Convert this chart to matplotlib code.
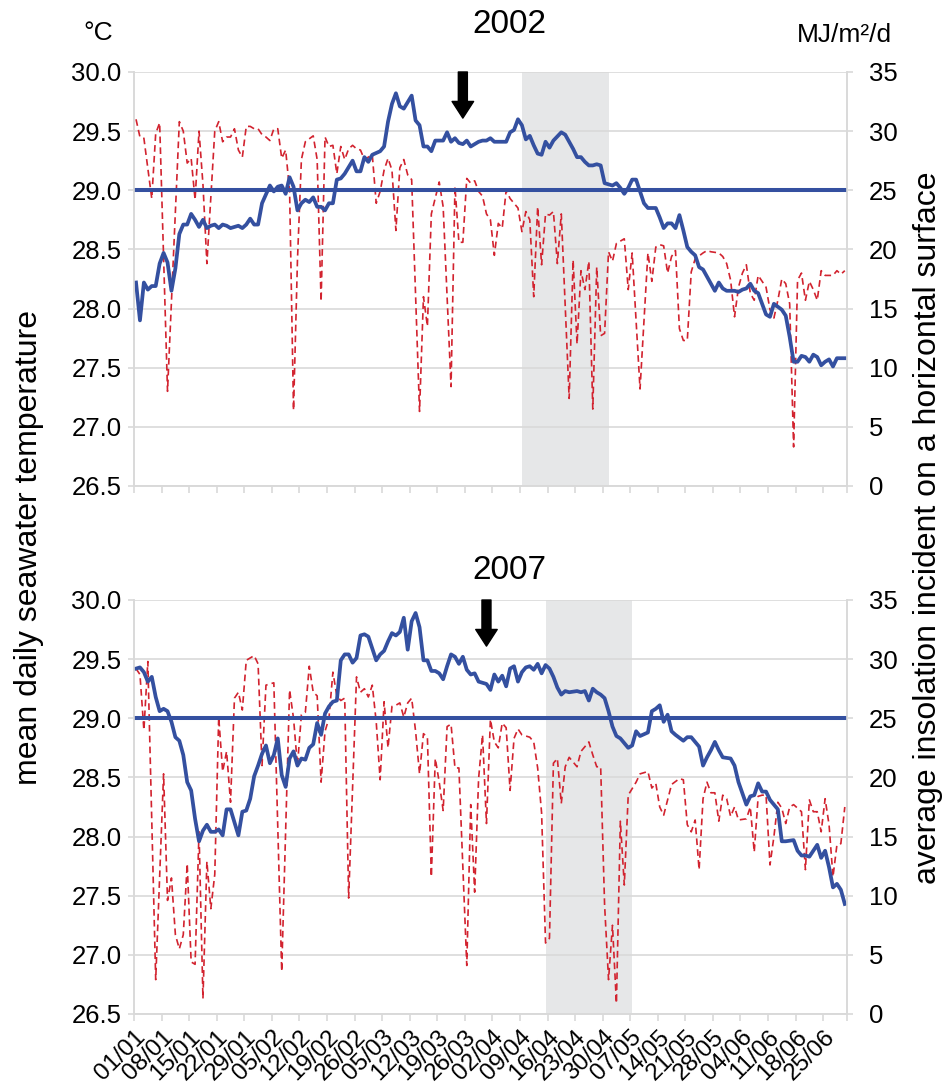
import matplotlib
matplotlib.use("Agg")
import matplotlib.pyplot as plt
from matplotlib.transforms import blended_transform_factory, ScaledTranslation

plt.rcParams['font.family'] = ['Liberation Sans', 'DejaVu Sans']

# day 0 = 01/01, series run to 30/06 (day 180)
tick_days = list(range(0, 176, 7))
tick_labels = ['01/01', '08/01', '15/01', '22/01', '29/01', '05/02', '12/02', '19/02',
               '26/02', '05/03', '12/03', '19/03', '26/03', '02/04', '09/04', '16/04',
               '23/04', '30/04', '07/05', '14/05', '21/05', '28/05', '04/06', '11/06',
               '18/06', '25/06']

# 2002 - mean daily seawater temperature (°C)
days_t02 = [0, 1, 2, 3, 4, 5, 6, 7, 8, 9, 10, 11, 12, 13, 14, 15, 16, 17, 18, 19, 20, 21, 22, 23, 24,
            26, 27, 28, 29, 30, 31, 32, 34, 35, 36, 37, 38, 39, 40, 41, 42, 43, 44, 45, 46, 47, 48,
            49, 50, 51, 52, 53, 55, 56, 57, 58, 59, 60, 62, 63, 64, 65, 66, 67, 68, 70, 71, 72, 73,
            74, 75, 76, 78, 79, 80, 81, 82, 83, 84, 85, 87, 88, 89, 90, 91, 92, 94, 95, 96, 97, 98,
            99, 100, 101, 102, 103, 104, 105, 106, 108, 109, 110, 111, 112, 113, 114, 115, 116, 117,
            118, 119, 121, 122, 123, 124, 125, 126, 127, 128, 129, 130, 132, 133, 134, 135, 136, 137,
            138, 139, 140, 141, 142, 143, 144, 145, 147, 148, 149, 150, 152, 153, 154, 155, 156, 157,
            158, 159, 160, 161, 162, 164, 165, 166, 167, 168, 169, 170, 171, 172, 173, 174, 175, 176,
            177, 178, 180]
temp_02 = [28.22, 27.90, 28.22, 28.16, 28.19, 28.19, 28.38, 28.47, 28.39, 28.15, 28.34, 28.63, 28.71,
           28.71, 28.80, 28.75, 28.69, 28.75, 28.68, 28.70, 28.71, 28.68, 28.71, 28.70, 28.68, 28.70,
           28.68, 28.71, 28.76, 28.71, 28.71, 28.89, 29.04, 28.99, 29.03, 29.04, 28.97, 29.11, 29.03,
           28.83, 28.89, 28.92, 28.90, 28.94, 28.86, 28.86, 28.83, 28.89, 28.89, 29.09, 29.10, 29.14,
           29.25, 29.16, 29.16, 29.28, 29.24, 29.30, 29.33, 29.37, 29.58, 29.73, 29.82, 29.71, 29.69,
           29.80, 29.59, 29.55, 29.37, 29.37, 29.33, 29.42, 29.42, 29.49, 29.41, 29.44, 29.40, 29.39,
           29.42, 29.37, 29.41, 29.42, 29.42, 29.44, 29.41, 29.41, 29.41, 29.49, 29.51, 29.60, 29.55,
           29.43, 29.46, 29.38, 29.31, 29.30, 29.41, 29.36, 29.42, 29.49, 29.47, 29.41, 29.35, 29.28,
           29.28, 29.24, 29.21, 29.21, 29.22, 29.21, 29.06, 29.04, 29.06, 29.02, 28.97, 29.02, 29.09,
           29.09, 28.99, 28.89, 28.85, 28.85, 28.77, 28.68, 28.72, 28.72, 28.68, 28.79, 28.66, 28.52,
           28.48, 28.45, 28.35, 28.33, 28.27, 28.15, 28.22, 28.17, 28.15, 28.15, 28.14, 28.16, 28.17,
           28.21, 28.15, 28.13, 28.04, 27.95, 27.93, 28.04, 27.99, 27.94, 27.76, 27.55, 27.55, 27.60,
           27.59, 27.55, 27.61, 27.59, 27.52, 27.55, 27.57, 27.51, 27.58, 27.58]

# 2002 - insolation on a horizontal surface (MJ/m2/d)
days_r02 = [0, 1, 2, 4, 5, 6, 8, 11, 12, 13, 14, 15, 16, 17, 18, 20, 21, 22, 23, 24, 25, 26, 27, 28,
            29, 30, 31, 32, 33, 34, 35, 36, 37, 38, 39, 40, 41, 42, 43, 45, 46, 47, 48, 49, 50, 51,
            52, 53, 54, 55, 56, 57, 58, 59, 60, 61, 62, 63, 64, 65, 66, 67, 68, 69, 70, 72, 73, 74,
            75, 77, 78, 80, 81, 82, 83, 84, 85, 86, 87, 88, 89, 90, 91, 92, 93, 94, 95, 97, 98, 99,
            100, 101, 102, 103, 104, 105, 106, 107, 108, 110, 111, 112, 113, 114, 115, 116, 117, 118,
            119, 120, 121, 122, 124, 125, 126, 128, 130, 131, 132, 133, 134, 135, 136, 137, 138, 139,
            140, 141, 142, 144, 145, 146, 148, 149, 150, 151, 152, 153, 154, 155, 156, 157, 158, 160,
            161, 162, 163, 164, 165, 166, 167, 168, 169, 170, 171, 172, 173, 174, 175, 177, 178, 179,
            180]
rad_02 = [31.0, 29.5, 29.4, 24.3, 29.8, 30.7, 8.0, 30.8, 30.0, 27.3, 27.7, 24.2, 30.0, 25.5, 18.8,
          30.0, 30.8, 29.1, 29.5, 29.5, 30.2, 28.4, 27.8, 30.4, 30.4, 30.2, 30.2, 29.7, 29.5, 29.2,
          30.2, 30.2, 27.7, 28.4, 25.0, 6.4, 19.1, 27.6, 29.1, 29.6, 27.6, 15.6, 29.5, 28.7, 28.8,
          26.4, 28.7, 27.6, 28.5, 28.8, 28.5, 28.4, 27.6, 27.8, 28.0, 23.9, 24.9, 26.7, 27.7, 26.7,
          21.6, 26.9, 27.6, 26.3, 25.9, 6.3, 16.0, 13.5, 23.0, 25.7, 23.6, 8.4, 25.3, 20.6, 20.6,
          26.0, 25.6, 25.8, 24.9, 24.5, 23.0, 22.5, 19.5, 22.2, 21.8, 25.0, 24.3, 23.5, 21.5, 23.2,
          22.5, 16.0, 23.6, 18.7, 23.0, 22.9, 23.2, 18.8, 23.0, 7.4, 19.1, 12.0, 18.2, 16.6, 19.0,
          6.5, 18.5, 12.7, 12.9, 19.8, 19.0, 20.5, 20.9, 16.6, 19.7, 8.2, 19.7, 17.3, 20.2, 20.4,
          20.3, 18.0, 19.4, 19.9, 13.3, 12.3, 12.3, 18.1, 19.2, 19.7, 19.9, 19.8, 19.7, 19.4, 18.8,
          17.4, 14.3, 16.8, 18.0, 18.7, 16.3, 15.7, 17.8, 16.8, 14.9, 14.2, 15.7, 17.5, 17.1, 15.4,
          3.3, 17.4, 18.0, 15.7, 17.3, 16.6, 15.7, 18.2, 17.8, 17.8, 18.2, 17.9, 18.2]

# 2007 - mean daily seawater temperature (°C)
days_t07 = list(range(0, 88)) + [89, 90, 91, 92, 93, 94, 95, 96, 97, 98, 99, 100, 101, 102, 103,
                                 104, 105, 106, 107, 108, 109, 110, 112, 113, 114, 115, 116, 117,
                                 118, 119, 120, 121, 122, 123, 124, 125, 126, 127, 128, 130, 131,
                                 132, 133, 134, 135, 136, 137, 139, 140, 141, 142, 143, 144, 145,
                                 146, 147, 148, 149, 151, 152, 153, 155, 156, 157, 158, 159, 160,
                                 161, 163, 164, 165, 167, 168, 169, 170, 171, 172, 173, 174, 175,
                                 176, 177, 178, 179, 180]
temp_07 = [29.42, 29.43, 29.39, 29.31, 29.35, 29.18, 29.06, 29.08, 29.06, 28.97, 28.84, 28.81, 28.69,
           28.46, 28.39, 28.15, 27.96, 28.05, 28.10, 28.04, 28.04, 28.06, 28.01, 28.23, 28.23, 28.12,
           28.01, 28.21, 28.22, 28.32, 28.51, 28.60, 28.70, 28.77, 28.62, 28.69, 28.83, 28.52, 28.42,
           28.66, 28.72, 28.60, 28.66, 28.65, 28.75, 28.78, 28.96, 28.86, 29.04, 29.10, 29.14, 29.15,
           29.49, 29.54, 29.54, 29.47, 29.51, 29.70, 29.71, 29.69, 29.59, 29.49, 29.54, 29.57, 29.65,
           29.72, 29.70, 29.73, 29.85, 29.58, 29.82, 29.89, 29.77, 29.49, 29.49, 29.40, 29.40, 29.38,
           29.33, 29.44, 29.54, 29.52, 29.46, 29.52, 29.41, 29.37, 29.38, 29.31,
           29.29, 29.24, 29.37, 29.31, 29.36, 29.27, 29.42, 29.44, 29.31, 29.39, 29.43, 29.44, 29.41,
           29.46, 29.38, 29.45, 29.42, 29.35, 29.26, 29.20, 29.23, 29.22, 29.23, 29.22, 29.23, 29.15,
           29.25, 29.22, 29.20, 29.17, 29.06, 28.93, 28.85, 28.83, 28.79, 28.75, 28.77, 28.89, 28.85,
           28.88, 29.06, 29.08, 29.11, 28.97, 29.03, 28.89, 28.86, 28.81, 28.84, 28.84, 28.80, 28.76,
           28.60, 28.67, 28.73, 28.80, 28.73, 28.67, 28.66, 28.60, 28.46, 28.27, 28.34, 28.35, 28.45,
           28.38, 28.38, 28.31, 28.23, 27.96, 27.96, 27.97, 27.88, 27.84, 27.84, 27.83, 27.88, 27.93,
           27.82, 27.88, 27.74, 27.57, 27.60, 27.55, 27.43]

# 2007 - insolation on a horizontal surface (MJ/m2/d)
days_r07 = [0, 1, 2, 3, 5, 7, 8, 9, 10, 11, 12, 13, 14, 15, 16, 17, 18, 19, 20, 21, 22, 23, 24, 25,
            26, 27, 28, 30, 31, 32, 33, 35, 37, 39, 40, 41, 42, 43, 44, 45, 46, 47, 48, 49, 50, 51,
            52, 53, 54, 56, 57, 58, 59, 60, 61, 62, 63, 64, 65, 66, 67, 68, 69, 70, 71, 72, 73, 74,
            75, 76, 77, 78, 79, 80, 81, 82, 84, 85, 86, 87, 88, 89, 90, 91, 92, 93, 94, 95, 96, 97,
            98, 100, 101, 102, 103, 104, 105, 106, 107, 108, 109, 110, 112, 113, 115, 116, 117, 118,
            119, 120, 121, 122, 123, 124, 125, 127, 128, 130, 131, 132, 133, 134, 136, 138, 139, 140,
            141, 142, 143, 144, 145, 146, 147, 148, 149, 150, 151, 152, 153, 155, 156, 157, 158, 159,
            160, 161, 162, 163, 164, 165, 166, 167, 169, 170, 171, 172, 173, 174, 175, 176, 177, 178,
            179, 180]
rad_07 = [29.2, 28.7, 24.0, 29.8, 2.9, 20.3, 9.6, 11.5, 6.7, 5.5, 6.7, 12.7, 4.4, 4.2, 15.4, 1.3,
          12.9, 8.9, 11.8, 25.1, 20.5, 22.2, 17.9, 26.7, 27.2, 25.7, 29.9, 30.3, 29.6, 21.0, 27.8,
          28.0, 3.6, 27.4, 25.0, 21.0, 25.3, 25.5, 29.4, 27.2, 26.9, 19.6, 23.9, 25.0, 28.9, 26.9,
          26.5, 26.7, 9.8, 28.5, 27.2, 27.5, 26.8, 27.8, 24.7, 19.8, 26.4, 22.5, 26.0, 26.1, 26.3,
          25.1, 26.3, 26.7, 23.9, 20.3, 23.7, 23.4, 11.6, 21.6, 19.6, 17.2, 24.3, 24.5, 20.8, 20.8,
          4.1, 17.7, 10.3, 19.9, 23.6, 16.1, 24.9, 23.0, 22.5, 24.6, 24.2, 18.9, 23.3, 24.1, 23.6,
          23.4, 23.0, 20.8, 17.0, 6.0, 6.4, 21.2, 21.6, 17.8, 20.9, 21.7, 20.9, 22.2, 23.0, 21.9,
          20.9, 20.9, 9.2, 2.9, 7.5, 0.9, 16.3, 10.9, 18.5, 19.6, 20.3, 20.5, 19.1, 19.5, 17.5, 16.8,
          19.4, 19.9, 19.8, 16.0, 15.4, 16.4, 12.2, 18.2, 19.6, 18.7, 18.7, 16.3, 18.5, 18.2, 16.7,
          17.5, 16.4, 16.5, 17.5, 13.7, 18.4, 18.5, 18.5, 12.6, 15.0, 17.9, 17.4, 16.1, 17.5, 17.7,
          17.1, 12.2, 18.1, 17.1, 17.1, 15.4, 18.2, 16.0, 11.6, 14.3, 14.4, 17.5]

# shaded period (first day, last day) and arrow day for each year
shade_02 = (98, 120)
shade_07 = (104, 126)
arrow_02 = 83
arrow_07 = 89
threshold = 29.0

blue = '#3450a0'
red = '#d2232f'
grid_c = '#d9d9d9'

fig = plt.figure(figsize=(9.44, 10.84), dpi=100)
ax_top = fig.add_axes([0.142, 0.5517, 0.755, 0.3819])
ax_bot = fig.add_axes([0.142, 0.0646, 0.755, 0.3819])


def draw_panel(ax, days_t, temp, days_r, rad, shade, arrow_day, show_labels):
    ax2 = ax.twinx()
    ax.set_zorder(2)
    ax2.set_zorder(1)
    ax.patch.set_visible(False)

    # insolation, shading and grid underneath
    ax2.axvspan(shade[0], shade[1], color='#e6e7e8', lw=0, zorder=0)
    ax2.plot(days_r, rad, color=red, lw=1.2, ls=(0, (4, 2.5)), zorder=2)
    ax2.set_ylim(0, 35)
    ax2.set_yticks(range(0, 36, 5))
    ax2.grid(axis='y', color=grid_c, lw=1.2)
    ax2.set_axisbelow(True)

    # temperature on top
    ax.plot(days_t, temp, color=blue, lw=2.7, solid_joinstyle='round')
    ax.axhline(threshold, color=blue, lw=2.9)
    ax.set_ylim(26.5, 30.0)
    ax.set_yticks([26.5 + 0.5 * i for i in range(8)])
    ax.set_yticklabels(['%.1f' % (26.5 + 0.5 * i) for i in range(8)])
    ax.set_xlim(-0.5, 180.5)

    ax.annotate('', xy=(arrow_day, 29.61), xytext=(arrow_day, 30.0),
                arrowprops=dict(facecolor='black', edgecolor='black', width=6.5,
                                headwidth=15.5, headlength=12, shrink=0))

    # week ticks sit between days
    ax.set_xticks([d - 0.5 for d in tick_days] + [180.5])
    ax.set_xticklabels([])
    ax.tick_params(axis='x', direction='out', length=5, color=grid_c, width=1.2)
    if show_labels:
        trans = blended_transform_factory(ax.transData, ax.transAxes) + \
            ScaledTranslation(0.06, -0.20, fig.dpi_scale_trans)
        for d, lab in zip(tick_days, tick_labels):
            ax.text(d, 0, lab, transform=trans, rotation=45, ha='right', va='center',
                    rotation_mode='anchor', fontsize=17.5)
    ax.tick_params(axis='y', direction='out', length=4, color=grid_c, width=1.2,
                   labelsize=18.5, pad=5)
    ax2.tick_params(axis='y', direction='out', length=4, color=grid_c, width=1.2,
                    labelsize=18.5, pad=12)

    for a in (ax, ax2):
        for side in ('left', 'right', 'bottom'):
            a.spines[side].set_color(grid_c)
            a.spines[side].set_linewidth(1.2)
        a.spines['top'].set_visible(False)
    return ax2


draw_panel(ax_top, days_t02, temp_02, days_r02, rad_02, shade_02, arrow_02, False)
draw_panel(ax_bot, days_t07, temp_07, days_r07, rad_07, shade_07, arrow_07, True)

fig.text(0.540, 0.977, '2002', fontsize=24, ha='center', va='center')
fig.text(0.540, 0.474, '2007', fontsize=24, ha='center', va='center')
fig.text(0.120, 0.970, '°C', fontsize=19, ha='right', va='center')
fig.text(0.945, 0.968, 'MJ/m²/d', fontsize=19, ha='right', va='center')
fig.text(0.031, 0.495, 'mean daily seawater temperature', fontsize=23,
         rotation=90, ha='center', va='center')
fig.text(0.983, 0.513, 'average insolation incident on a horizontal surface', fontsize=23,
         rotation=90, ha='center', va='center')

fig.savefig('out.png', dpi=100)
